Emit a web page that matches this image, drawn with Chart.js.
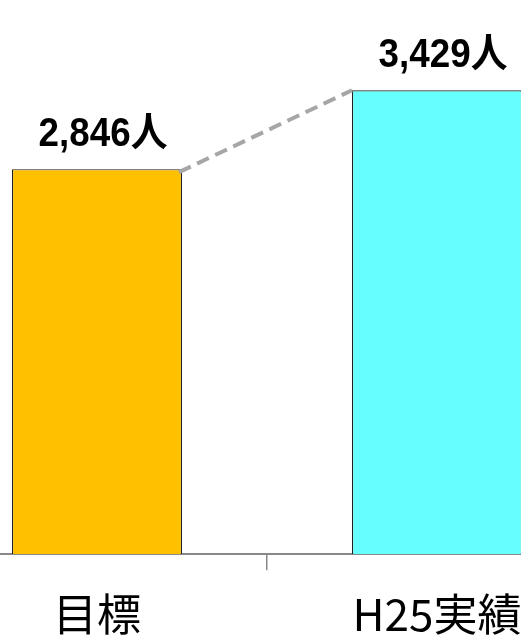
<!DOCTYPE html>
<html><head><meta charset="utf-8">
<script src="https://cdn.jsdelivr.net/npm/chart.js@4/dist/chart.umd.min.js"></script>
<style>
html,body{margin:0;padding:0;background:#fff;overflow:hidden;width:521px;height:639px;}
#wrap{position:absolute;left:-73px;top:0;width:680px;height:659px;}
</style></head>
<body>
<div id="wrap"><canvas id="c" width="680" height="659"></canvas></div>
<script>
const categories = ['目標', 'H25実績'];
const values = [2846, 3429];
const valueLabels = ['2,846人', '3,429人'];
const barColors = ['#FFC000', '#66FFFF'];

const labelPlugin = {
  id: 'labels',
  afterDatasetsDraw(chart) {
    const ctx = chart.ctx;
    const meta = chart.getDatasetMeta(0);
    const a = meta.data[0], b = meta.data[1];
    // dashed connector
    ctx.save();
    ctx.strokeStyle = '#A6A6A6';
    ctx.lineWidth = 4;
    ctx.setLineDash([13, 7]);
    ctx.beginPath();
    ctx.moveTo(a.x + a.width / 2 - 3, a.y + 3);
    ctx.lineTo(b.x - b.width / 2, b.y);
    ctx.stroke();
    ctx.restore();
    // value labels (slightly condensed)
    meta.data.forEach((el, i) => {
      ctx.save();
      ctx.fillStyle = '#000';
      ctx.textAlign = 'center';
      ctx.textBaseline = 'middle';
      ctx.font = 'bold 40px "Liberation Sans", "Noto Sans CJK JP", sans-serif';
      ctx.translate(el.x + 6, el.y - 34);
      ctx.scale(0.92, 1);
      ctx.fillText(valueLabels[i], 0, 0);
      ctx.restore();
    });
  }
};

new Chart(document.getElementById('c'), {
  type: 'bar',
  data: {
    labels: categories,
    datasets: [{
      data: values,
      backgroundColor: barColors,
      borderColor: '#222',
      borderWidth: 1.2,
      barPercentage: 0.5,
      categoryPercentage: 1.0
    }]
  },
  options: {
    responsive: false,
    animation: false,
    layout: { padding: { top: 13, left: 0, right: 0, bottom: 0 } },
    plugins: { legend: { display: false }, tooltip: { enabled: false } },
    scales: {
      x: {
        offset: true,
        grid: { offset: true, drawOnChartArea: false, color: '#888', tickLength: 16, lineWidth: 1.5 },
        border: { display: true, color: '#888', width: 2 },
        ticks: { color: '#000', padding: 18, font: { size: 44, family: '"Noto Sans CJK JP", sans-serif' } }
      },
      y: { display: false, min: 0, max: 4000 }
    }
  },
  plugins: [labelPlugin]
});
</script>
</body></html>
